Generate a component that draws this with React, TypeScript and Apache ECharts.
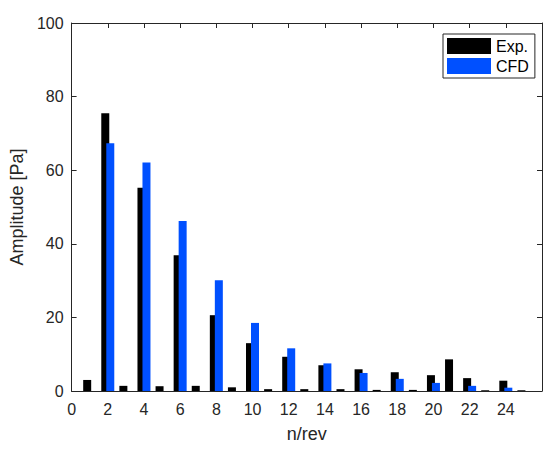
import React, { useEffect, useRef } from "react";
import * as echarts from "echarts";

const harmonics = [1, 2, 3, 4, 5, 6, 7, 8, 9, 10, 11, 12, 13, 14, 15, 16, 17, 18, 19, 20, 21, 22, 23, 24, 25];
const expValues = [3.0, 75.5, 1.4, 55.2, 1.3, 36.9, 1.4, 20.6, 1.0, 13.0, 0.5, 9.3, 0.5, 7.0, 0.5, 5.9, 0.3, 5.1, 0.3, 4.3, 8.6, 3.5, 0.2, 2.8, 0.2];
const cfdValues = [0, 67.3, 0, 62.1, 0, 46.2, 0, 30.1, 0, 18.5, 0, 11.6, 0, 7.5, 0, 4.9, 0, 3.3, 0, 2.2, 0, 1.4, 0, 0.9, 0];
const seriesNames = ["Exp.", "CFD"];

const axisColor = "#262626";
const font = "Liberation Sans, Arial, Helvetica, sans-serif";

export default function App() {
  const ref = useRef<HTMLDivElement>(null);
  useEffect(() => {
    if (!ref.current) return;
    const chart = echarts.init(ref.current, undefined, { renderer: "svg" });
    const tickCommon = { show: true, inside: true, length: 5, lineStyle: { color: axisColor } };
    chart.setOption({
      animation: false,
      backgroundColor: "#ffffff",
      textStyle: { fontFamily: font },
      grid: { left: 70, top: 23, right: 8, bottom: 63, containLabel: false },
      legend: {
        orient: "vertical",
        left: 443,
        top: 34,
        data: seriesNames,
        icon: "rect",
        itemWidth: 44,
        itemHeight: 16,
        itemGap: 4,
        padding: [4, 6, 4, 4],
        borderColor: axisColor,
        borderWidth: 1,
        backgroundColor: "#ffffff",
        textStyle: { fontSize: 16, color: "#000000", fontFamily: font },
      },
      xAxis: [
        {
          type: "value",
          min: 0,
          max: 26,
          interval: 2,
          name: "n/rev",
          nameLocation: "middle",
          nameGap: 34,
          nameTextStyle: { fontSize: 18, color: axisColor, fontFamily: font },
          axisLine: { show: true, onZero: false, lineStyle: { color: axisColor } },
          axisTick: tickCommon,
          axisLabel: {
            fontSize: 16,
            color: axisColor,
            margin: 10,
            fontFamily: font,
            formatter: (v: number) => (v === 26 ? "" : String(v)),
          },
          splitLine: { show: false },
        },
        {
          type: "value",
          position: "top",
          min: 0,
          max: 26,
          interval: 2,
          axisLine: { show: true, onZero: false, lineStyle: { color: axisColor } },
          axisTick: tickCommon,
          axisLabel: { show: false },
          splitLine: { show: false },
        },
      ],
      yAxis: [
        {
          type: "value",
          min: 0,
          max: 100,
          interval: 20,
          name: "Amplitude [Pa]",
          nameLocation: "middle",
          nameGap: 35,
          nameTextStyle: { fontSize: 18, color: axisColor, fontFamily: font },
          axisLine: { show: true, onZero: false, lineStyle: { color: axisColor } },
          axisTick: tickCommon,
          axisLabel: { fontSize: 16, color: axisColor, margin: 8, fontFamily: font },
          splitLine: { show: false },
        },
        {
          type: "value",
          position: "right",
          min: 0,
          max: 100,
          interval: 20,
          axisLine: { show: true, onZero: false, lineStyle: { color: axisColor } },
          axisTick: tickCommon,
          axisLabel: { show: false },
          splitLine: { show: false },
        },
      ],
      series: [
        {
          name: seriesNames[0],
          type: "bar",
          xAxisIndex: 0,
          yAxisIndex: 0,
          barWidth: 8,
          barGap: "-37.5%",
          itemStyle: { color: "#000000" },
          data: harmonics.map((n, i) => [n, expValues[i]]),
        },
        {
          name: seriesNames[1],
          type: "bar",
          xAxisIndex: 0,
          yAxisIndex: 0,
          barWidth: 8,
          barGap: "-37.5%",
          itemStyle: { color: "#0050ff" },
          data: harmonics.map((n, i) => [n, cfdValues[i]]),
        },
      ],
    });
    return () => chart.dispose();
  }, []);
  return <div ref={ref} style={{ width: 550, height: 454, position: "absolute", left: 0, top: 0 }} />;
}
